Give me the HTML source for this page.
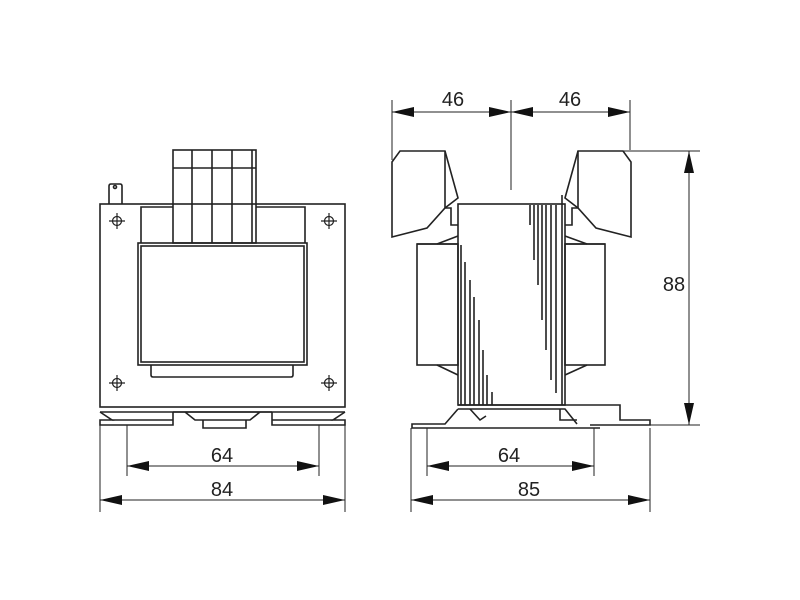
<!DOCTYPE html>
<html><head><style>
html,body{margin:0;padding:0;background:#fff;}
svg{display:block;}
text{font-family:"Liberation Sans",sans-serif;font-size:20px;fill:#222;text-anchor:middle;}
</style></head><body>
<svg width="800" height="600" viewBox="0 0 800 600" xmlns="http://www.w3.org/2000/svg">
<defs>
<marker id="a" viewBox="0 0 22 10" refX="22" refY="5" markerWidth="22" markerHeight="10" markerUnits="userSpaceOnUse" orient="auto-start-reverse">
<path d="M0,0 L22,5 L0,10 z" fill="#111"/>
</marker>
</defs>
<g fill="none" stroke="#222" stroke-width="1.6">
<!-- LEFT VIEW -->
<rect x="100" y="204" width="245" height="203"/>
<line x1="100" y1="412" x2="345" y2="412"/>
<path d="M109,204 V186 Q109,184 111,184 H120 Q122,184 122,186 V204"/>
<circle cx="115" cy="187" r="1.5"/>
<rect x="173" y="150" width="83" height="93"/>
<line x1="173" y1="168" x2="256" y2="168"/>
<line x1="192" y1="150" x2="192" y2="243"/>
<line x1="212" y1="150" x2="212" y2="243"/>
<line x1="232" y1="150" x2="232" y2="243"/>
<line x1="252" y1="150" x2="252" y2="243"/>
<path d="M173,207 H141 V243 M256,207 H305 V243"/>
<rect x="138" y="243" width="169" height="122"/>
<rect x="141" y="246" width="163" height="116"/>
<path d="M151,365 V375 Q151,377 153,377 H291 Q293,377 293,375 V365"/>
<g stroke-width="1.2">
<circle cx="117" cy="221" r="4.5"/><path d="M109,221 H125 M117,213 V229"/>
<circle cx="329" cy="221" r="4.5"/><path d="M321,221 H337 M329,213 V229"/>
<circle cx="117" cy="383" r="4.5"/><path d="M109,383 H125 M117,375 V391"/>
<circle cx="329" cy="383" r="4.5"/><path d="M321,383 H337 M329,375 V391"/>
</g>
<path d="M100,412 L112,420 H100 V425 H173 V412 M345,412 L333,420 H345 V425 H272 V412"/>
<path d="M173,412 H272 M185,412 L195,420 H250 L260,412 M203,420 V428 H246 V420"/>
<path d="M112,420 H173 M333,420 H272"/>
<!-- RIGHT VIEW -->
<path d="M392,162 L400,151 H445 L458,198 L445,208 L427,228 L392,237 Z"/>
<path d="M631,162 L623,151 H578 L565,198 L578,208 L596,228 L631,237 Z"/>
<path d="M445,151 V208 H451 V225 H458 M578,151 V208 H572 V225 H565"/>
<rect x="458" y="204" width="107" height="201"/>
<rect x="417" y="244" width="41" height="121"/>
<rect x="565" y="244" width="40" height="121"/>
<line x1="417" y1="244" x2="458" y2="244"/><line x1="565" y1="244" x2="605" y2="244"/>
<path d="M437,244 L458,236 M587,244 L565,236 M437,365 L458,375 M587,365 L565,375"/>
<path d="M461,245 V405 M465,262 V405 M470,280 V405 M474,297 V405 M479,320 V405 M483,350 V405 M487,375 V405 M492,392 V405"/>
<path d="M530,205 V225 M534,205 V260 M538,205 V285 M542,205 V320 M546,205 V350 M551,205 V380 M556,205 V393 M562,195 V405"/>
<path d="M458,405 H565 M458,409 H565 L577,424 M458,409 L445,424 H412 V428 H600"/>
<path d="M470,409 L480,420 L486,416 M565,405 H620 V420 H650 V425 H590"/>
<path d="M560,409 V420 H577"/>
</g>
<!-- DIMENSIONS -->
<g stroke="#222" stroke-width="1">
<path d="M100,425 V512 M127,425 V476 M319,425 V476 M345,425 V512"/>
<path d="M392,100 V160 M511,100 V190 M630,100 V150"/>
<path d="M623,151 H700 M620,425 H700"/>
<path d="M411,428 V512 M427,428 V476 M594,428 V476 M650,428 V512"/>
<line x1="127" y1="466" x2="319" y2="466" marker-start="url(#a)" marker-end="url(#a)"/>
<line x1="100" y1="500" x2="345" y2="500" marker-start="url(#a)" marker-end="url(#a)"/>
<line x1="427" y1="466" x2="594" y2="466" marker-start="url(#a)" marker-end="url(#a)"/>
<line x1="411" y1="500" x2="650" y2="500" marker-start="url(#a)" marker-end="url(#a)"/>
<line x1="392" y1="112" x2="511" y2="112" marker-start="url(#a)" marker-end="url(#a)"/>
<line x1="511" y1="112" x2="630" y2="112" marker-start="url(#a)" marker-end="url(#a)"/>
<line x1="689" y1="151" x2="689" y2="425" marker-start="url(#a)" marker-end="url(#a)"/>
</g>
<text x="222" y="462">64</text>
<text x="222" y="496">84</text>
<text x="509" y="462">64</text>
<text x="529" y="496">85</text>
<text x="453" y="106">46</text>
<text x="570" y="106">46</text>
<text x="674" y="291">88</text>
</svg>
</body></html>
